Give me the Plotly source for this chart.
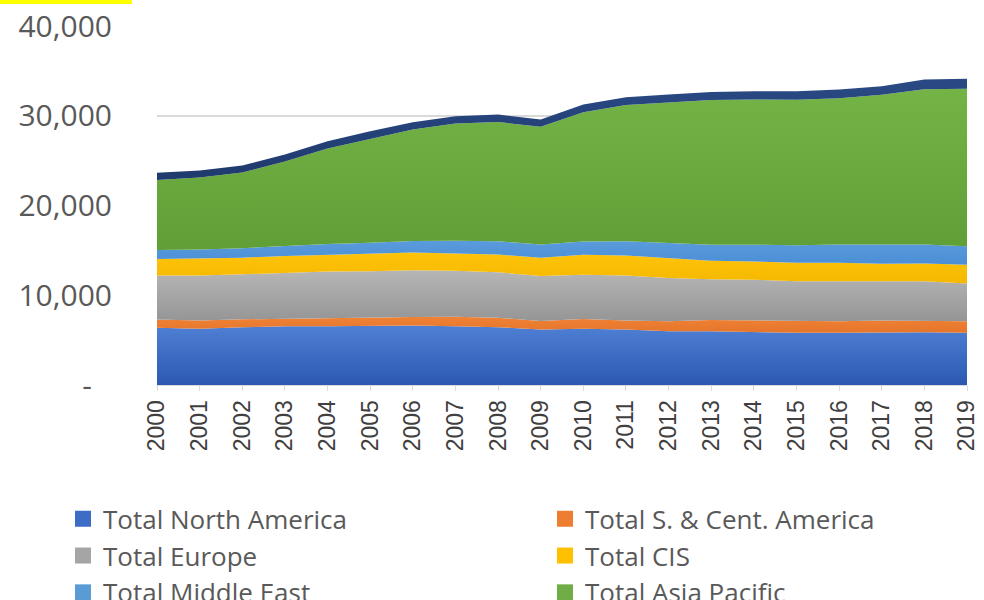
import plotly.graph_objects as go

# ---------------- data ----------------
years = list(range(2000, 2020))
year_labels = [str(y) for y in years]

north_america = [6370, 6260, 6440, 6550, 6550, 6630, 6630, 6550, 6440, 6180,
                 6260, 6180, 5990, 5990, 5880, 5820, 5820, 5880, 5880, 5820]
s_cent_america = [920, 920, 880, 850, 920, 930, 950, 1050, 1040, 950,
                  1080, 1000, 1100, 1250, 1320, 1290, 1290, 1320, 1300, 1290]
europe = [4900, 5010, 5010, 5120, 5190, 5120, 5200, 5120, 5080, 5010,
          4940, 5010, 4840, 4530, 4530, 4460, 4460, 4350, 4380, 4200]
cis = [1860, 1890, 1860, 1850, 1860, 1940, 1970, 1940, 1970, 2040,
       2230, 2230, 2230, 2070, 2040, 2050, 2050, 1970, 1970, 2080]
middle_east = [1000, 1020, 1060, 1110, 1190, 1230, 1290, 1400, 1480, 1480,
               1480, 1600, 1670, 1800, 1860, 1950, 2040, 2100, 2120, 2080]
asia_pacific = [7790, 8020, 8420, 9410, 10640, 11590, 12420, 13080, 13290, 13110,
                14400, 15190, 15660, 16120, 16180, 16220, 16280, 16720, 17310, 17540]
africa = [800, 780, 780, 790, 810, 830, 820, 800, 830, 810,
          860, 850, 870, 900, 920, 940, 980, 950, 1070, 1100]

series_names = ["Total North America", "Total S. & Cent. America", "Total Europe",
                "Total CIS", "Total Middle East", "Total Asia Pacific", "Total Africa"]
series_values = [north_america, s_cent_america, europe, cis, middle_east,
                 asia_pacific, africa]

y_tick_vals = [0, 10000, 20000, 30000, 40000]
y_tick_text = ["-\u2002\u2009", "10,000", "20,000", "30,000", "40,000"]

# ---------------- styling ----------------
# (top colour, bottom colour, legend colour)
colors = [
    ("#4F80D4", "#2C58B2", "#3D6CC6"),
    ("#F08236", "#E4752A", "#ED7D31"),
    ("#B6B6B6", "#959595", "#A5A5A5"),
    ("#FFC30A", "#F5B800", "#FFC000"),
    ("#5A9BDB", "#4A8ED6", "#5B9BD5"),
    ("#74B346", "#5F9F36", "#70AD47"),
    ("#2A4A85", "#1F3A6C", "#264478"),
]

W, H = 984, 600
L, R, T, B = 157, 17, 26, 214.5
plot_w = W - L - R
plot_h = H - T - B


def px_x(px):
    return (px - L) / plot_w


def px_y(py):
    return (H - B - py) / plot_h


fig = go.Figure()

lower = [0] * len(years)
for name, vals, (c_top, c_bot, c_leg) in zip(series_names, series_values, colors):
    upper = [a + b for a, b in zip(lower, vals)]
    fig.add_trace(go.Scatter(
        x=years, y=vals, stackgroup="one", mode="lines",
        line=dict(width=0, color=c_leg),
        fillcolor=c_leg,
        fillgradient=dict(type="vertical",
                          colorscale=[[0, c_bot], [1, c_top]],
                          start=min(lower), stop=max(upper)),
        name=name, showlegend=False, hoverinfo="skip",
    ))
    lower = upper

# legend entries (square markers like the original)
for name, (c_top, c_bot, c_leg) in zip(series_names, colors):
    fig.add_trace(go.Scatter(
        x=[None], y=[None], mode="markers",
        marker=dict(symbol="square", size=16, color=c_leg),
        name=name, showlegend=True,
    ))

fig.update_layout(
    width=W, height=H,
    margin=dict(l=L, r=R, t=T, b=B, autoexpand=False),
    paper_bgcolor="white", plot_bgcolor="white",
    showlegend=True,
    hovermode=False,
    legend=dict(
        orientation="h", x=px_x(63), y=px_y(496),
        xanchor="left", yanchor="top",
        entrywidth=437, entrywidthmode="pixels",
        font=dict(family="Open Sans", size=26, color="#595959"),
        bgcolor="rgba(0,0,0,0)", traceorder="normal",
    ),
    xaxis=dict(
        range=[2000, 2019], tickmode="array", tickvals=years, ticktext=year_labels,
        tickangle=-90, ticks="outside", ticklen=5, tickcolor="#D9D9D9",
        showline=True, linecolor="#D9D9D9", linewidth=1,
        showgrid=False, zeroline=False,
        tickfont=dict(family="Liberation Sans", size=23, color="#404040"),
    ),
    yaxis=dict(
        range=[0, 40000], tickmode="array", tickvals=y_tick_vals, ticktext=y_tick_text,
        showgrid=True, gridcolor="#D9D9D9", gridwidth=1.5,
        zeroline=False, showline=False, ticks="",
        ticklabelstandoff=44,
        tickfont=dict(family="Open Sans", size=30, color="#595959"),
    ),
    shapes=[dict(type="rect", xref="paper", yref="paper",
                 x0=px_x(0), x1=px_x(132), y0=px_y(4), y1=px_y(0),
                 fillcolor="#FFFF00", line=dict(width=0), layer="above")],
)

fig.write_html("out.html", config={"displayModeBar": False},
               post_script="document.body.style.margin='0';")
